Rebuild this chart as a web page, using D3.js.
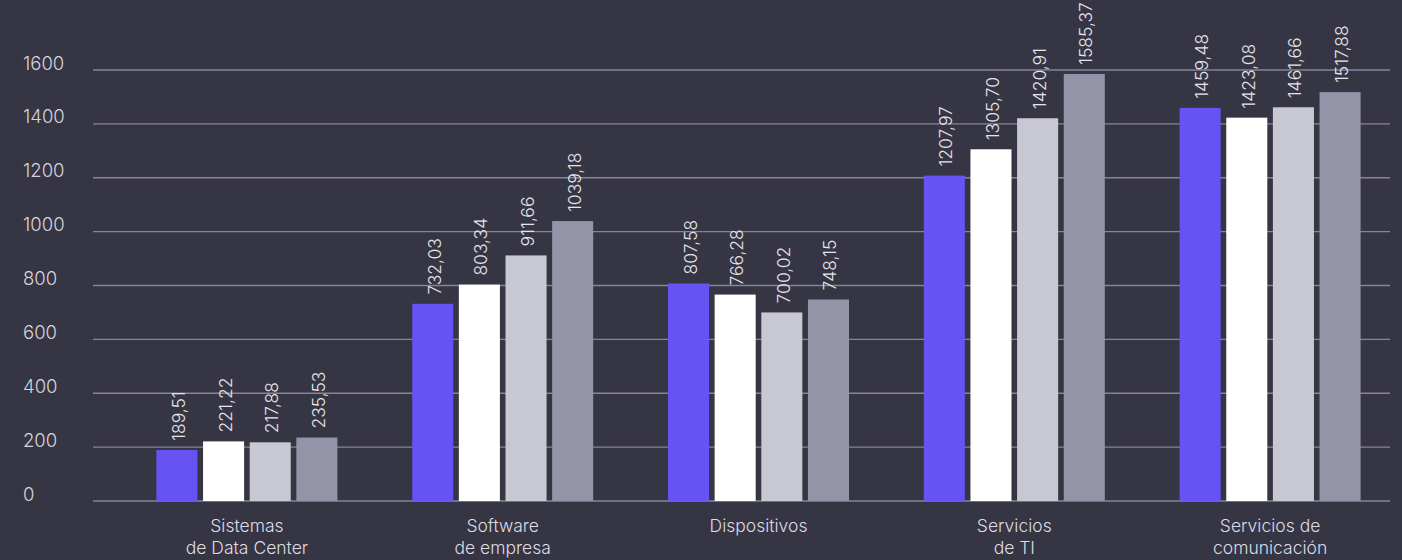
<!DOCTYPE html>
<html>
<head>
<meta charset="utf-8">
<script src="https://cdn.jsdelivr.net/npm/d3@7"></script>
<style>
  html, body { margin: 0; padding: 0; background: #363543; }
  svg { display: block; }
  text { font-family: Inter, "Noto Sans", sans-serif; font-weight: 300; }
</style>
</head>
<body>
<svg id="chart" width="1402" height="560"></svg>
<script>
// Categories (two-line labels) and the four series shown per category
const categories = [
  ["Sistemas", "de Data Center"],
  ["Software", "de empresa"],
  ["Dispositivos"],
  ["Servicios", "de TI"],
  ["Servicios de", "comunicación"]
];
const seriesA = [189.51, 732.03, 807.58, 1207.97, 1459.48];
const seriesB = [221.22, 803.34, 766.28, 1305.70, 1423.08];
const seriesC = [217.88, 911.66, 700.02, 1420.91, 1461.66];
const seriesD = [235.53, 1039.18, 748.15, 1585.37, 1517.88];
const yTicks = [0, 200, 400, 600, 800, 1000, 1200, 1400, 1600];

const series = [seriesA, seriesB, seriesC, seriesD];
const colors = ["#6753f3", "#ffffff", "#c8c8d2", "#9494a8"];

const svg = d3.select("#chart");

const gridLeft = 93, gridRight = 1390;
const y = d3.scaleLinear().domain([0, 1600]).range([501, 70]);

const x0 = d3.scaleBand()
  .domain(d3.range(categories.length))
  .range([119, 1398]);

const groupWidth = 181;
const x1 = d3.scaleBand()
  .domain(d3.range(series.length))
  .range([0, groupWidth])
  .paddingInner(0.12);

// Horizontal gridlines and tick labels
const grid = svg.append("g");
grid.selectAll("line")
  .data(yTicks)
  .join("line")
  .attr("x1", gridLeft).attr("x2", gridRight)
  .attr("y1", d => y(d)).attr("y2", d => y(d))
  .attr("stroke", "#85849a")
  .attr("stroke-width", 1.3);

grid.selectAll("text")
  .data(yTicks)
  .join("text")
  .attr("x", 23)
  .attr("y", d => y(d) - 0.5)
  .attr("fill", "#d4d4dc")
  .attr("font-size", 18.5)
  .text(d => d);

// Bars grouped per category
const groups = svg.append("g").selectAll("g")
  .data(categories.map((c, i) => i))
  .join("g")
  .attr("transform", i => `translate(${x0(i) + (x0.bandwidth() - groupWidth) / 2},0)`);

groups.selectAll("rect")
  .data(i => series.map((s, k) => ({ k, v: s[i] })))
  .join("rect")
  .attr("x", d => x1(d.k))
  .attr("width", x1.bandwidth())
  .attr("y", d => y(d.v))
  .attr("height", d => y(0) - y(d.v))
  .attr("fill", d => colors[d.k]);

// Rotated value labels above each bar
const fmt = v => v.toFixed(2).replace(".", ",");
groups.selectAll("text.val")
  .data(i => series.map((s, k) => ({ k, v: s[i] })))
  .join("text")
  .attr("class", "val")
  .attr("transform", d => `translate(${x1(d.k) + x1.bandwidth() / 2 + 8},${y(d.v) - 9}) rotate(-90)`)
  .attr("fill", "#e4e4ea")
  .attr("font-size", 17.5)
  .text(d => fmt(d.v));

// Category labels below the baseline
const catLabels = svg.append("g").selectAll("text")
  .data(categories.map((c, i) => ({ c, i })))
  .join("text")
  .attr("text-anchor", "middle")
  .attr("x", d => x0(d.i) + x0.bandwidth() / 2)
  .attr("y", 532)
  .attr("fill", "#dcdce4")
  .attr("font-size", 17.5);

catLabels.selectAll("tspan")
  .data(d => d.c.map((line, j) => ({ line, j, cx: x0(d.i) + x0.bandwidth() / 2 })))
  .join("tspan")
  .attr("x", d => d.cx)
  .attr("dy", d => d.j === 0 ? 0 : 22)
  .text(d => d.line);
</script>
</body>
</html>
